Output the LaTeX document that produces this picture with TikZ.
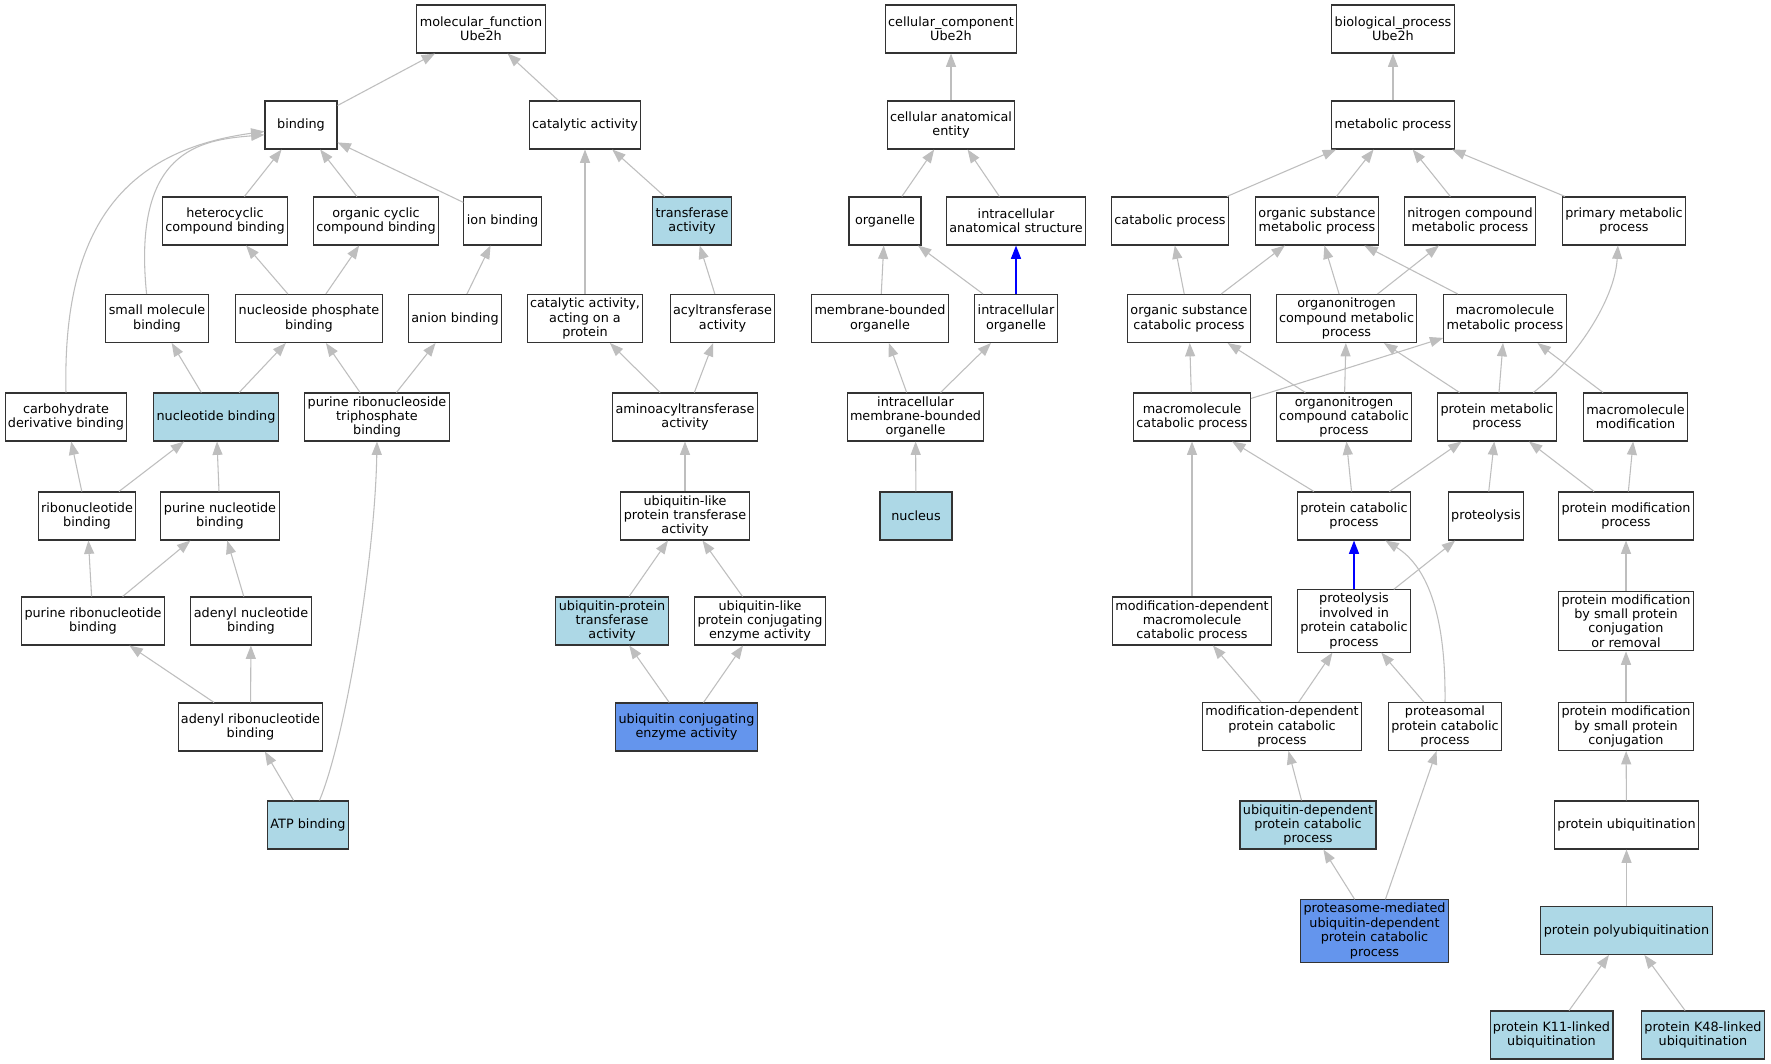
\documentclass[tikz,border=0pt]{standalone}
\usepackage{fontspec}
\setmainfont{DejaVu Sans}
\usepackage{tikz}
\usetikzlibrary{arrows.meta}
\definecolor{termblue}{HTML}{ADD8E6}
\definecolor{hitblue}{HTML}{6495ED}
\definecolor{edgegray}{HTML}{BEBEBE}
\tikzstyle{term}=[rectangle,draw=black!80,line width=0.8pt,fill=white,align=center,inner xsep=2.2pt,inner ysep=2.5pt,minimum width=54pt,minimum height=36pt,font=\fontsize{9.6pt}{10.8pt}\selectfont]
\tikzstyle{light term}=[term,fill=termblue]
\tikzstyle{dark term}=[term,fill=hitblue]
\tikzstyle{isa}=[draw,edgegray,line width=0.8pt,-{Triangle[length=10pt,width=7.5pt]}]
\tikzstyle{partof}=[isa,blue,line width=1.1pt]

\begin{document}
\begin{tikzpicture}[x=0.75pt,y=-0.75pt]
    \fill[white] (0,0) rectangle (1771,1064);
    \useasboundingbox (0,0) rectangle (1771,1064);
    % First we draw the plain terms
    \foreach \pos/\name/\txt in {{(481,29)/mf/{molecular\_function\\Ube2h}}, {(301,125)/binding/{binding}},
        {(585,125)/catact/{catalytic activity}}, {(225,221)/hetcyc/{heterocyclic\\compound binding}},
        {(376,221)/orgcyc/{organic cyclic\\compound binding}}, {(502.5,221)/ionb/{ion binding}},
        {(157,318.5)/smallmol/{small molecule\\binding}}, {(309,318.5)/nucphos/{nucleoside phosphate\\binding}},
        {(455,318.5)/anion/{anion binding}}, {(585,318.5)/catprot/{catalytic activity,\\acting on a\\protein}},
        {(722.5,318.5)/acyl/{acyltransferase\\activity}}, {(66,417)/carbder/{carbohydrate\\derivative binding}},
        {(377,417)/prtb/{purine ribonucleoside\\triphosphate\\binding}}, {(685,417)/aminoacyl/{aminoacyltransferase\\activity}},
        {(87,516)/ribonuc/{ribonucleotide\\binding}}, {(220,516)/purnuc/{purine nucleotide\\binding}},
        {(685,516)/ubltrans/{ubiquitin-like\\protein transferase\\activity}}, {(93,621)/purribo/{purine ribonucleotide\\binding}},
        {(251,621)/adenuc/{adenyl nucleotide\\binding}}, {(760,621)/ublconj/{ubiquitin-like\\protein conjugating\\enzyme activity}},
        {(250.5,727)/aderibo/{adenyl ribonucleotide\\binding}},
        {(951,29)/cc/{cellular\_component\\Ube2h}}, {(951,125)/cae/{cellular anatomical\\entity}},
        {(885,221)/organelle/{organelle}}, {(1016,221)/ias/{intracellular\\anatomical structure}},
        {(880,318.5)/mbo/{membrane-bounded\\organelle}}, {(1016,318.5)/io/{intracellular\\organelle}},
        {(915.5,417)/imbo/{intracellular\\membrane-bounded\\organelle}},
        {(1393,29)/bp/{biological\_process\\Ube2h}}, {(1393,125)/metab/{metabolic process}},
        {(1170,221)/catab/{catabolic process}}, {(1317,221)/osmp/{organic substance\\metabolic process}},
        {(1470,221)/ncmp/{nitrogen compound\\metabolic process}}, {(1624,221)/pmp/{primary metabolic\\process}},
        {(1189,318.5)/oscp/{organic substance\\catabolic process}}, {(1346.5,318.5)/oncmp/{organonitrogen\\compound metabolic\\process}},
        {(1505,318.5)/mmp/{macromolecule\\metabolic process}}, {(1192,417)/mcp/{macromolecule\\catabolic process}},
        {(1344,417)/onccp/{organonitrogen\\compound catabolic\\process}}, {(1497,417)/protmet/{protein metabolic\\process}},
        {(1635.5,417)/mmod/{macromolecule\\modification}}, {(1354,516)/protcat/{protein catabolic\\process}},
        {(1486,516)/proteolysis/{proteolysis}}, {(1626,516)/pmodp/{protein modification\\process}},
        {(1192,621)/mdmcp/{modification-dependent\\macromolecule\\catabolic process}},
        {(1354,621)/pipcp/{proteolysis\\involved in\\protein catabolic\\process}},
        {(1626,621)/pmsr/{protein modification\\by small protein\\conjugation\\or removal}},
        {(1282,726.5)/mdpcp/{modification-dependent\\protein catabolic\\process}},
        {(1445,726.5)/proteasomal/{proteasomal\\protein catabolic\\process}},
        {(1626,726.5)/pmsc/{protein modification\\by small protein\\conjugation}},
        {(1626.5,825)/protub/{protein ubiquitination}}}
        \node[term] (\name) at \pos {\txt};

    % annotated terms
    \foreach \pos/\name/\txt in {{(216,417)/nucb/{nucleotide binding}}, {(308,825)/atp/{ATP binding}},
        {(692,221)/transf/{transferase\\activity}}, {(612,621)/ubprot/{ubiquitin-protein\\transferase\\activity}},
        {(916,516)/nucleus/{nucleus}}, {(1308,825)/udpcp/{ubiquitin-dependent\\protein catabolic\\process}},
        {(1626.5,930.5)/polyub/{protein polyubiquitination}}, {(1551.5,1035)/kelf/{protein K11-linked\\ubiquitination}},
        {(1703,1035)/kfoa/{protein K48-linked\\ubiquitination}}}
        \node[light term] (\name) at \pos {\txt};

    \foreach \pos/\name/\txt in {{(686.5,727)/ubconj/{ubiquitin conjugating\\enzyme activity}},
        {(1374.5,931)/pmudpcp/{proteasome-mediated\\ubiquitin-dependent\\protein catabolic\\process}}}
        \node[dark term] (\name) at \pos {\txt};

    % Connect terms with is_a edges
    \foreach \source/\dest in {binding/mf, catact/mf, hetcyc/binding, orgcyc/binding, ionb/binding,
        nucphos/hetcyc, nucphos/orgcyc, anion/ionb, catprot/catact, transf/catact, acyl/transf,
        nucb/smallmol, nucb/nucphos, prtb/nucphos, prtb/anion, aminoacyl/catprot, aminoacyl/acyl,
        ribonuc/carbder, ribonuc/nucb, purnuc/nucb, ubltrans/aminoacyl, purribo/ribonuc, purribo/purnuc,
        adenuc/purnuc, ubprot/ubltrans, ublconj/ubltrans, aderibo/purribo, aderibo/adenuc,
        ubconj/ubprot, ubconj/ublconj, atp/aderibo,
        cae/cc, organelle/cae, ias/cae, mbo/organelle, io/organelle, imbo/mbo, imbo/io, nucleus/imbo,
        metab/bp, catab/metab, osmp/metab, ncmp/metab, pmp/metab, oscp/catab, oscp/osmp,
        oncmp/osmp, oncmp/ncmp, mmp/osmp, mcp/oscp, mcp/mmp, onccp/oscp, onccp/oncmp,
        protmet/oncmp, protmet/mmp, mmod/mmp, protcat/mcp, protcat/onccp, protcat/protmet,
        proteolysis/protmet, pmodp/protmet, pmodp/mmod, mdmcp/mcp, pipcp/proteolysis, pmsr/pmodp,
        mdpcp/mdmcp, mdpcp/pipcp, proteasomal/pipcp, pmsc/pmsr, udpcp/mdpcp, protub/pmsc,
        pmudpcp/udpcp, pmudpcp/proteasomal, polyub/protub, kelf/polyub, kfoa/polyub}
        \path[isa] (\source) -- (\dest);

    % curved ones
    \path[isa] (smallmol.113) .. controls (132,150) and (200,140) .. (binding.-165);
    \path[isa] (carbder.north) .. controls (62,220) and (130,150) .. (binding.-170);
    \path[isa] (atp.65) .. controls (345,740) and (375,560) .. (prtb.south);
    \path[isa] (protmet.34) .. controls (1575,360) and (1615,300) .. (pmp.-104);
    \path[isa] (proteasomal.north) .. controls (1446,610) and (1425,565) .. (protcat.-38);

    % part_of edges
    \foreach \source/\dest in {io/ias, pipcp/protcat}
        \path[partof] (\source) -- (\dest);
\end{tikzpicture}
\end{document}
